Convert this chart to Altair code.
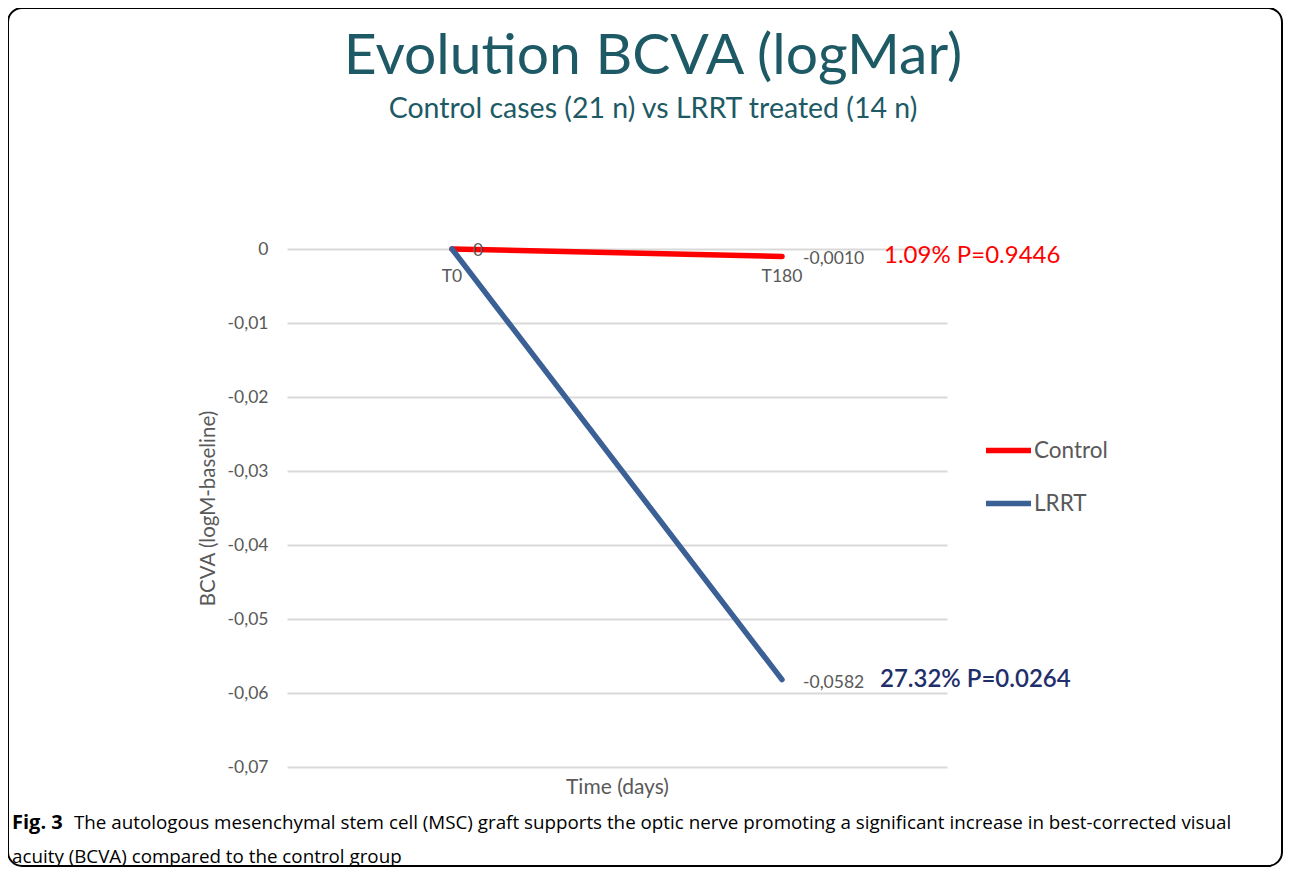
import altair as alt
import pandas as pd

# ---- data ----
times = ["T0", "T180"]
series = ["Control", "LRRT"]
control_values = [0.0, -0.0010]
lrrt_values = [0.0, -0.0582]
series_colors = ["#FF0000", "#3B6095"]
end_labels = ["-0,0010", "-0,0582"]
start_label = "0"
stat_labels = ["1.09% P=0.9446", "27.32% P=0.0264"]
stat_colors = ["#FF0000", "#1F2F6B"]
stat_weights = ["normal", 600]
stat_dx = [102, 98]
y_ticks = [0, -0.01, -0.02, -0.03, -0.04, -0.05, -0.06, -0.07]

title_text = "Evolution BCVA (logMar)"
subtitle_text = "Control cases (21 n) vs LRRT treated (14 n)"
x_title = "Time (days)"
y_title = "BCVA (logM-baseline)"
caption_bold = "Fig. 3"
caption_line1 = ("The autologous mesenchymal stem cell (MSC) graft supports the optic nerve "
                 "promoting a significant increase in best-corrected visual")
caption_line2 = "acuity (BCVA) compared to the control group"

FONT = "Lato"
GRAY = "#595959"
TEAL = "#1E5A66"

rows = []
for s, vals in zip(series, [control_values, lrrt_values]):
    for t, v in zip(times, vals):
        rows.append({"series": s, "time": t, "value": v})
df = pd.DataFrame(rows)

end_df = pd.DataFrame({
    "series": series,
    "time": [times[-1]] * 2,
    "value": [control_values[-1], lrrt_values[-1]],
    "label": end_labels,
    "stat": stat_labels,
})
start_df = pd.DataFrame({"time": [times[0]], "value": [control_values[0]], "label": [start_label]})
cat_df = pd.DataFrame({"time": times, "value": [0.0, 0.0]})

x_enc = alt.X(
    "time:N",
    scale=alt.Scale(type="point", padding=0.5, domain=times),
    axis=alt.Axis(labels=False, ticks=False, domain=False, grid=False,
                  title=x_title, titleFontSize=21, titleColor=GRAY,
                  titleFont=FONT, titleFontWeight="normal", titlePadding=9),
)
label_expr = ("datum.value == 0 ? '0' : replace(replace(format(datum.value, '.2f'), '.', ','), "
              "'\u2212', '-')")
y_enc = alt.Y(
    "value:Q",
    scale=alt.Scale(domain=[-0.07, 0], nice=False, zero=False),
    axis=alt.Axis(values=y_ticks, labelExpr=label_expr, grid=True, gridColor="#D9D9D9",
                  gridWidth=2, ticks=False, domain=False, labelFontSize=17.5,
                  labelColor=GRAY, labelFont=FONT, labelPadding=19,
                  title=y_title, titleFontSize=20.5, titleColor=GRAY, titleFont=FONT,
                  titleFontWeight="normal", titlePadding=9),
)

lines = alt.Chart(df).mark_line(strokeWidth=5.5, strokeCap="round").encode(
    x=x_enc,
    y=y_enc,
    color=alt.Color(
        "series:N",
        scale=alt.Scale(domain=series, range=series_colors),
        legend=alt.Legend(orient="none", legendX=696, legendY=176, title=None,
                          symbolType="stroke", symbolSize=2025, symbolStrokeWidth=5.5,
                          labelFontSize=22.5, labelColor=GRAY, labelFont=FONT,
                          labelOffset=0, rowPadding=16),
    ),
    detail="series:N",
)

end_text = alt.Chart(end_df).mark_text(
    align="left", baseline="middle", dx=21, dy=3, fontSize=17.5, color=GRAY, font=FONT
).encode(x=alt.X("time:N"), y=alt.Y("value:Q"), text="label:N")

start_text = alt.Chart(start_df).mark_text(
    align="center", baseline="middle", dx=26, dy=2, fontSize=17.5, color=GRAY, font=FONT
).encode(x=alt.X("time:N"), y=alt.Y("value:Q"), text="label:N")

cat_text = alt.Chart(cat_df).mark_text(
    align="center", baseline="middle", dy=28, fontSize=17.5, color=GRAY, font=FONT
).encode(x=alt.X("time:N"), y=alt.Y("value:Q"), text="time:N")

stat_layers = []
for i, s in enumerate(series):
    stat_layers.append(
        alt.Chart(end_df).transform_filter(alt.datum.series == s).mark_text(
            align="left", baseline="middle", dx=stat_dx[i], fontSize=24, color=stat_colors[i],
            font=FONT, fontWeight=stat_weights[i]
        ).encode(x=alt.X("time:N"), y=alt.Y("value:Q"), text="stat:N")
    )

cap_df = pd.DataFrame({"a": [caption_bold], "b": [caption_line1], "c": [caption_line2]})
cap_bold = alt.Chart(cap_df).mark_text(
    align="left", baseline="middle", fontSize=20, fontWeight="bold", font="Open Sans", color="#000000"
).encode(text="a:N", x=alt.value(-275), y=alt.value(574))
cap_l1 = alt.Chart(cap_df).mark_text(
    align="left", baseline="middle", fontSize=18.8, font="Open Sans", color="#000000"
).encode(text="b:N", x=alt.value(-213), y=alt.value(574))
cap_l2 = alt.Chart(cap_df).mark_text(
    align="left", baseline="middle", fontSize=18.8, font="Open Sans", color="#000000"
).encode(text="c:N", x=alt.value(-275), y=alt.value(608))

frame = alt.Chart(pd.DataFrame({"f": [1]})).mark_rect(
    filled=False, stroke="#000000", strokeWidth=2, cornerRadius=14
).encode(x=alt.value(-279), x2=alt.value(995), y=alt.value(-241), y2=alt.value(617))

chart = alt.layer(
    frame, lines, start_text, end_text, cat_text, *stat_layers, cap_bold, cap_l1, cap_l2
).properties(
    width=660,
    height=518,
    title=alt.TitleParams(
        title_text, subtitle=subtitle_text, fontSize=57, subtitleFontSize=28.5,
        color=TEAL, subtitleColor=TEAL, font=FONT, subtitleFont=FONT,
        fontWeight="normal", anchor="middle", dx=36, offset=-117, subtitlePadding=9,
    ),
    autosize=alt.AutoSizeParams(type="none"),
    padding={"left": 279, "top": 241, "right": 337, "bottom": 104},
    background="white",
).configure_view(stroke=None)

chart.save("out.html", embed_options={"renderer": "svg", "actions": False})
